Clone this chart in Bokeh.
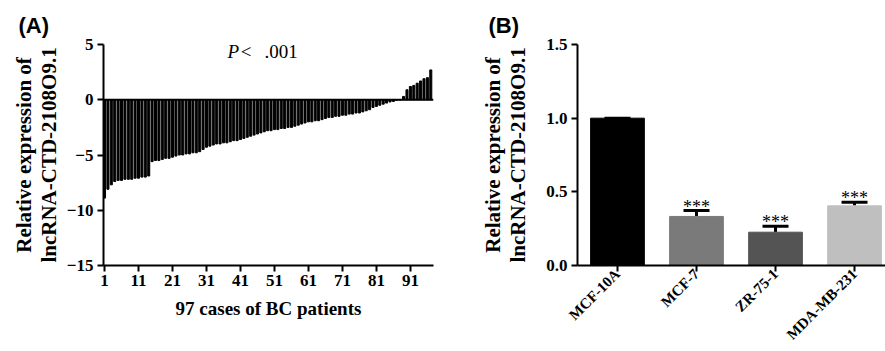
from bokeh.plotting import figure
from bokeh.layouts import row
from bokeh.models import (Range1d, FixedTicker, Span, Label, LabelSet, ColumnDataSource,
                          Whisker, TeeHead, NumeralTickFormatter, Title)
from bokeh.embed import file_html
from bokeh.resources import INLINE
import math

# ---------------- data ----------------
# Panel A: relative expression in 97 BC cases (sorted)
case_values = [
    -8.9, -8.1, -7.7, -7.4, -7.3, -7.3, -7.2, -7.2, -7.2, -7.1,
    -7.1, -7.0, -7.0, -6.9, -5.6, -5.5, -5.5, -5.4, -5.3, -5.3,
    -5.2, -5.1, -5.0, -5.0, -4.9, -4.9, -4.8, -4.8, -4.7, -4.5,
    -4.3, -4.2, -4.1, -4.0, -4.0, -3.9, -3.9, -3.8, -3.7, -3.7,
    -3.6, -3.5, -3.4, -3.3, -3.2, -3.1, -3.0, -2.9, -2.8, -2.8,
    -2.7, -2.7, -2.6, -2.6, -2.5, -2.5, -2.4, -2.3, -2.2, -2.1,
    -2.0, -2.0, -1.9, -1.9, -1.8, -1.7, -1.6, -1.6, -1.5, -1.5,
    -1.4, -1.4, -1.3, -1.3, -1.2, -1.2, -1.1, -1.0, -0.9, -0.7,
    -0.6, -0.5, -0.4, -0.3, -0.2, -0.15, -0.05, -0.02, 0.3, 0.9,
    1.2, 1.3, 1.5, 1.7, 1.9, 2.0, 2.7,
]
case_numbers = list(range(1, len(case_values) + 1))
a_xticks = [1, 11, 21, 31, 41, 51, 61, 71, 81, 91]
a_yticks = [-15, -10, -5, 0, 5]

# Panel B: cell lines
cell_lines = ["MCF-10A", "MCF-7", "ZR-75-1", "MDA-MB-231"]
cell_means = [1.0, 0.333, 0.226, 0.405]
cell_sem = [0.0, 0.04, 0.04, 0.025]
cell_stars = ["", "***", "***", "***"]
cell_colors = ["#000000", "#7a7a7a", "#545454", "#bfbfbf"]
b_yticks = [0.0, 0.5, 1.0, 1.5]

SERIF = "Liberation Serif"
SANS = "Liberation Sans"
H = 351
TOP = 44
BOTTOM = 86
YLABEL = "Relative expression of\nlncRNA-CTD-2108O9.1"
WA = 472


def style_axes(p):
    for ax in (p.xaxis[0], p.yaxis[0]):
        ax.axis_line_width = 2
        ax.major_tick_line_width = 2
        ax.major_tick_out = 6
        ax.major_tick_in = 0
        ax.minor_tick_line_color = None
        ax.major_label_text_font = SERIF
        ax.major_label_text_font_style = "bold"
        ax.major_label_text_font_size = "17px"
        ax.major_label_text_color = "black"
        ax.axis_label_text_font = SERIF
        ax.axis_label_text_font_style = "bold"
        ax.axis_label_text_font_size = "19px"
        ax.axis_label_text_color = "black"
        ax.axis_line_color = "black"
        ax.major_tick_line_color = "black"
    p.yaxis.axis_label_text_font_size = "21px"
    p.yaxis.axis_label_text_line_height = 1.05
    p.xgrid.visible = False
    p.ygrid.visible = False
    p.outline_line_color = None


def panel_title(text, offset, standoff):
    return Title(text=text, align="left", offset=offset, standoff=standoff,
                 text_font=SANS, text_font_style="bold", text_font_size="22px",
                 text_color="black")


# ---------------- Panel A ----------------
pa = figure(width=WA, height=H, x_range=Range1d(0.7, 97.8), y_range=Range1d(-15, 5),
            output_backend="svg", toolbar_location=None,
            min_border_left=103, min_border_right=WA - 433, min_border_top=TOP, min_border_bottom=BOTTOM)
pa.title = panel_title("(A)", -85, 14)
pa.vbar(x=case_numbers, top=case_values, bottom=0, width=0.6, color="black")
pa.add_layout(Span(location=0, dimension="width", line_color="black", line_width=2))
style_axes(pa)
pa.xaxis.ticker = FixedTicker(ticks=a_xticks)
pa.yaxis.ticker = FixedTicker(ticks=a_yticks)
pa.yaxis.major_label_overrides = {t: (str(t).replace("-", "\u2212")) for t in a_yticks}
pa.xaxis.axis_label = "97 cases of BC patients"
pa.yaxis.axis_label = YLABEL
pa.xaxis.axis_label_standoff = 9
pa.yaxis.axis_label_standoff = 3
pa.xaxis.major_label_standoff = 3
pa.yaxis.major_label_standoff = 4

for txt, xpos, style in (("P", 37.2, "italic"), ("<", 41.1, "normal"), (".001", 48.1, "normal")):
    pa.add_layout(Label(x=xpos, y=4.34, text=txt, text_font=SERIF, text_font_style=style,
                        text_font_size="19px", text_baseline="alphabetic", text_color="black"))

# ---------------- Panel B ----------------
xs = list(range(len(cell_lines)))
pb = figure(width=885 - WA, height=H, x_range=Range1d(-0.506, 3.392), y_range=Range1d(0, 1.5),
            output_backend="svg", toolbar_location=None,
            min_border_left=577 - WA, min_border_right=0, min_border_top=TOP, min_border_bottom=BOTTOM)
pb.title = panel_title("(B)", -89, 13)
src = ColumnDataSource(dict(x=xs, mean=cell_means, upper=[m + s for m, s in zip(cell_means, cell_sem)],
                            color=cell_colors, stars=cell_stars))
pb.vbar(x="x", top="mean", bottom=0, width=0.68, fill_color="color", line_color="color", source=src)
pb.add_layout(Whisker(base="x", lower="mean", upper="upper", source=src, line_width=3,
                      line_color="black", lower_head=None,
                      upper_head=TeeHead(size=26, line_width=3, line_color="black")))
pb.add_layout(LabelSet(x="x", y="upper", text="stars", source=src, text_align="center",
                       text_baseline="alphabetic", text_font=SANS, text_font_size="18px",
                       text_color="black", y_offset=-2))
style_axes(pb)
pb.xaxis.ticker = FixedTicker(ticks=xs)
pb.xaxis.major_label_overrides = {i: name for i, name in zip(xs, cell_lines)}
pb.xaxis.major_label_orientation = math.pi / 4
pb.xaxis.major_label_text_font_size = "15px"
pb.xaxis.major_label_standoff = 0
pb.yaxis.ticker = FixedTicker(ticks=b_yticks)
pb.yaxis.formatter = NumeralTickFormatter(format="0.0")
pb.yaxis.axis_label = YLABEL
pb.yaxis.axis_label_standoff = 13
pb.yaxis.major_label_standoff = 4

layout = row(pa, pb)
open("out.html", "w").write(file_html(layout, INLINE))
